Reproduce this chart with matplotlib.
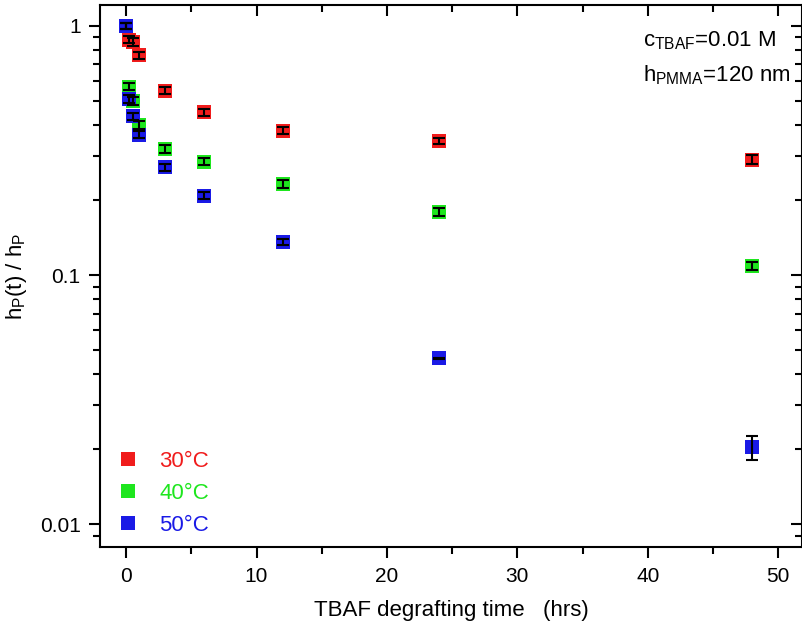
import matplotlib
matplotlib.use("Agg")
import matplotlib.pyplot as plt
from matplotlib.ticker import LogLocator, MultipleLocator, NullFormatter, FixedFormatter, FixedLocator

plt.rcParams["font.family"] = ["Liberation Sans", "DejaVu Sans"]
plt.rcParams["mathtext.fontset"] = "custom"
plt.rcParams["mathtext.rm"] = "Liberation Sans"
plt.rcParams["mathtext.it"] = "Liberation Sans"

times = [0, 0.25, 0.5, 1, 3, 6, 12, 24, 48]
h_30 = [1.0, 0.88, 0.86, 0.76, 0.548, 0.45, 0.38, 0.345, 0.29]
h_40 = [1.0, 0.57, 0.50, 0.40, 0.32, 0.285, 0.232, 0.179, 0.109]
h_50 = [1.0, 0.508, 0.433, 0.365, 0.271, 0.208, 0.136, 0.0464, 0.0204]
err_30 = [0.03, 0.03, 0.03, 0.025, 0.018, 0.014, 0.012, 0.011, 0.012]
err_40 = [0.03, 0.02, 0.018, 0.014, 0.011, 0.009, 0.008, 0.006, 0.004]
err_50 = [0.03, 0.018, 0.015, 0.012, 0.009, 0.007, 0.004, 0.0002, 0.0022]
labels = ["30\u00b0C", "40\u00b0C", "50\u00b0C"]
colors = ["#f01c1c", "#1ee61e", "#1a1ae6"]

fig = plt.figure(figsize=(8.03, 6.32), dpi=100)
ax = fig.add_axes([0.1245, 0.134, 0.874, 0.858])

for h, e, c, lab in zip([h_30, h_40, h_50], [err_30, err_40, err_50], colors, labels):
    ax.plot(times, h, "s", color=c, markersize=9.8, markeredgewidth=0,
            label=lab, zorder=2)
    ax.errorbar(times, h, yerr=e, fmt="none", ecolor="black", elinewidth=1.5,
                capsize=4, capthick=1.5, zorder=3)

ax.set_yscale("log")
ax.set_xlim(-2, 51.8)
ax.set_ylim(0.0081, 1.21)

ax.xaxis.set_major_locator(MultipleLocator(10))
ax.xaxis.set_minor_locator(MultipleLocator(5))
ax.yaxis.set_major_locator(FixedLocator([0.01, 0.1, 1]))
ax.yaxis.set_major_formatter(FixedFormatter(["0.01", "0.1", "1"]))
ax.yaxis.set_minor_locator(LogLocator(base=10, subs=range(2, 10)))
ax.yaxis.set_minor_formatter(NullFormatter())

ax.tick_params(axis="both", which="major", labelsize=15, width=1.5, length=8,
               direction="out", pad=6)
ax.tick_params(axis="both", which="minor", width=1.5, length=5, direction="out")
ax.tick_params(axis="x", which="both", top=True)
ax.tick_params(axis="y", which="both", right=True)
for spine in ax.spines.values():
    spine.set_linewidth(1.5)

# mirrored ticks on top/right point inward
for t in ax.xaxis.get_major_ticks() + ax.xaxis.get_minor_ticks():
    t.tick2line.set_marker(matplotlib.markers.TICKDOWN)
for t in ax.yaxis.get_major_ticks() + ax.yaxis.get_minor_ticks():
    t.tick2line.set_marker(matplotlib.markers.TICKLEFT)

ax.set_xlabel("TBAF degrafting time   (hrs)", fontsize=16, labelpad=10)
ax.set_ylabel("h$_\\mathregular{P}$(t) / h$_\\mathregular{P}$", fontsize=16, labelpad=8)

ax.text(0.7735, 0.935, "c$_\\mathregular{TBAF}$=0.01 M", transform=ax.transAxes,
        ha="left", va="center", fontsize=16)
ax.text(0.7735, 0.87, "h$_\\mathregular{PMMA}$=120 nm", transform=ax.transAxes,
        ha="left", va="center", fontsize=16)

leg = ax.legend(loc="lower left", bbox_to_anchor=(0.012, 0.0), frameon=False,
                fontsize=16, handlelength=0.8, handletextpad=1.0,
                labelspacing=0.5, borderaxespad=0.1)
for txt, c in zip(leg.get_texts(), colors):
    txt.set_color(c)

fig.savefig("out.png", dpi=100)
